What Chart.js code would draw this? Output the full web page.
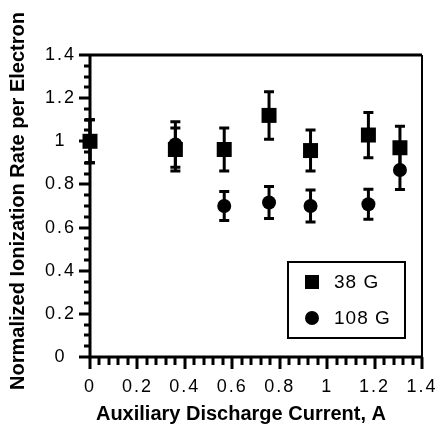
<!DOCTYPE html>
<html>
<head>
<meta charset="utf-8">
<script src="https://cdn.jsdelivr.net/npm/chart.js@4.4.1/dist/chart.umd.min.js"></script>
<style>
  html, body { margin: 0; padding: 0; background: #fff; }
  canvas { display: block; }
</style>
</head>
<body>
<canvas id="grafica" width="443" height="427"></canvas>
<script>
// Corriente de descarga auxiliar (A) y tasa de ionización normalizada.
var corriente = [0, 0.36, 0.566, 0.755, 0.93, 1.174, 1.307];
var tasa38 = [1.0, 0.962, 0.962, 1.12, 0.957, 1.029, 0.97];
var error38 = [0.1, 0.1, 0.1, 0.11, 0.095, 0.105, 0.1];
var tasa108 = [1.0, 0.985, 0.70, 0.716, 0.70, 0.708, 0.867];
var error108 = [0.1, 0.105, 0.067, 0.074, 0.074, 0.07, 0.09];
var etiquetas = ['38 G', '108 G'];
var ticksEje = [0, 0.2, 0.4, 0.6, 0.8, 1, 1.2, 1.4];

(function () {
  var NEGRO = '#000';
  var FUENTE = '"Liberation Sans", Arial, Helvetica, sans-serif';

  function puntos(ys) {
    return corriente.map(function (x, i) { return { x: x, y: ys[i] }; });
  }
  var fmt = function (v) { return String(Number(Number(v).toFixed(1))); };
  var fijarTicks = function (s) { s.ticks = ticksEje.map(function (v) { return { value: v }; }); };

  // ---- Barras de error, marco, ticks, leyenda y títulos ----
  var extras = {
    id: 'extras',
    beforeDraw: function (chart) {
      chart.ctx.letterSpacing = '2px';
    },
    beforeDatasetsDraw: function (chart) {
      var ctx = chart.ctx, sx = chart.scales.x, sy = chart.scales.y;
      var series = [[tasa108, error108], [tasa38, error38]];
      ctx.save();
      ctx.strokeStyle = NEGRO;
      ctx.lineWidth = 3;
      ctx.lineCap = 'butt';
      series.forEach(function (s) {
        corriente.forEach(function (x, i) {
          var px = sx.getPixelForValue(x);
          var top = sy.getPixelForValue(s[0][i] + s[1][i]);
          var bot = sy.getPixelForValue(s[0][i] - s[1][i]);
          ctx.beginPath();
          ctx.moveTo(px, top); ctx.lineTo(px, bot);
          ctx.moveTo(px - 5, top); ctx.lineTo(px + 5, top);
          ctx.moveTo(px - 5, bot); ctx.lineTo(px + 5, bot);
          ctx.stroke();
        });
      });
      ctx.restore();
    },
    afterDraw: function (chart) {
      var ctx = chart.ctx, a = chart.chartArea, sx = chart.scales.x, sy = chart.scales.y;
      var i, p;
      ctx.save();
      ctx.letterSpacing = '0px';
      ctx.strokeStyle = NEGRO;
      ctx.fillStyle = NEGRO;

      // marco
      ctx.lineWidth = 3;
      ctx.beginPath();
      ctx.moveTo(a.left, a.top); ctx.lineTo(a.left, a.bottom); ctx.lineTo(a.right, a.bottom);
      ctx.moveTo(a.left, a.top); ctx.lineTo(a.right, a.top);
      ctx.stroke();
      ctx.lineWidth = 2;
      ctx.beginPath();
      ctx.moveTo(a.right, a.top); ctx.lineTo(a.right, a.bottom);
      ctx.stroke();

      // ticks del eje x (cada 0.04) y del eje y (cada 0.05)
      ctx.lineWidth = 3;
      ctx.beginPath();
      for (i = 0; i <= 35; i++) {
        p = Math.round(sx.getPixelForValue(i * 0.04));
        ctx.moveTo(p, a.bottom);
        ctx.lineTo(p, a.bottom + (i % 5 === 0 ? 12 : 8));
      }
      for (i = 0; i <= 28; i++) {
        p = Math.round(sy.getPixelForValue(i * 0.05));
        ctx.moveTo(a.left, p);
        ctx.lineTo(a.left - (i % 4 === 0 ? 11 : 6), p);
      }
      ctx.stroke();

      // leyenda
      ctx.lineWidth = 2;
      ctx.strokeRect(288, 262, 117, 76);
      ctx.fillRect(305, 275, 14, 14);
      ctx.beginPath();
      ctx.arc(312, 318, 7, 0, Math.PI * 2);
      ctx.fill();
      ctx.font = '19px ' + FUENTE;
      ctx.letterSpacing = '1px';
      ctx.textAlign = 'left';
      ctx.textBaseline = 'middle';
      ctx.fillText(etiquetas[0], 334, 283);
      ctx.fillText(etiquetas[1], 334, 319);

      // títulos de ejes
      ctx.letterSpacing = '0px';
      ctx.font = 'bold 20px ' + FUENTE;
      ctx.textAlign = 'center';
      ctx.textBaseline = 'alphabetic';
      ctx.fillText('Auxiliary Discharge Current, A', 241, 420);
      ctx.translate(24, 201);
      ctx.rotate(-Math.PI / 2);
      ctx.fillText('Normalized Ionization Rate per Electron', 0, 0);
      ctx.restore();
    }
  };

  var el = document.getElementById('grafica');
  new Chart(el.getContext('2d'), {
    type: 'scatter',
    data: {
      datasets: [
        { label: etiquetas[1], data: puntos(tasa108), pointStyle: 'circle', pointRadius: 7, backgroundColor: NEGRO, borderWidth: 0, clip: false },
        { label: etiquetas[0], data: puntos(tasa38), pointStyle: 'rect', pointRadius: 10.6, backgroundColor: NEGRO, borderWidth: 0, clip: false }
      ]
    },
    options: {
      responsive: false,
      animation: false,
      events: [],
      layout: { padding: { top: 55, right: 21, left: 0, bottom: 0 } },
      plugins: { legend: { display: false }, tooltip: { enabled: false } },
      scales: {
        x: {
          type: 'linear', min: 0, max: 1.4,
          afterBuildTicks: fijarTicks,
          afterFit: function (s) { s.height = 70; s.paddingLeft = 0; s.paddingRight = 0; },
          grid: { display: false }, border: { display: false },
          ticks: { color: NEGRO, font: { size: 18, family: FUENTE }, padding: 11, maxRotation: 0, autoSkip: false, callback: fmt }
        },
        y: {
          type: 'linear', min: 0, max: 1.4,
          afterBuildTicks: fijarTicks,
          afterFit: function (s) { s.width = 90; s.paddingTop = 0; s.paddingBottom = 0; },
          grid: { display: false }, border: { display: false },
          ticks: { color: NEGRO, font: { size: 18, family: FUENTE }, padding: 9, crossAlign: 'center', autoSkip: false, callback: fmt }
        }
      }
    },
    plugins: [extras]
  });
})();
</script>
</body>
</html>
